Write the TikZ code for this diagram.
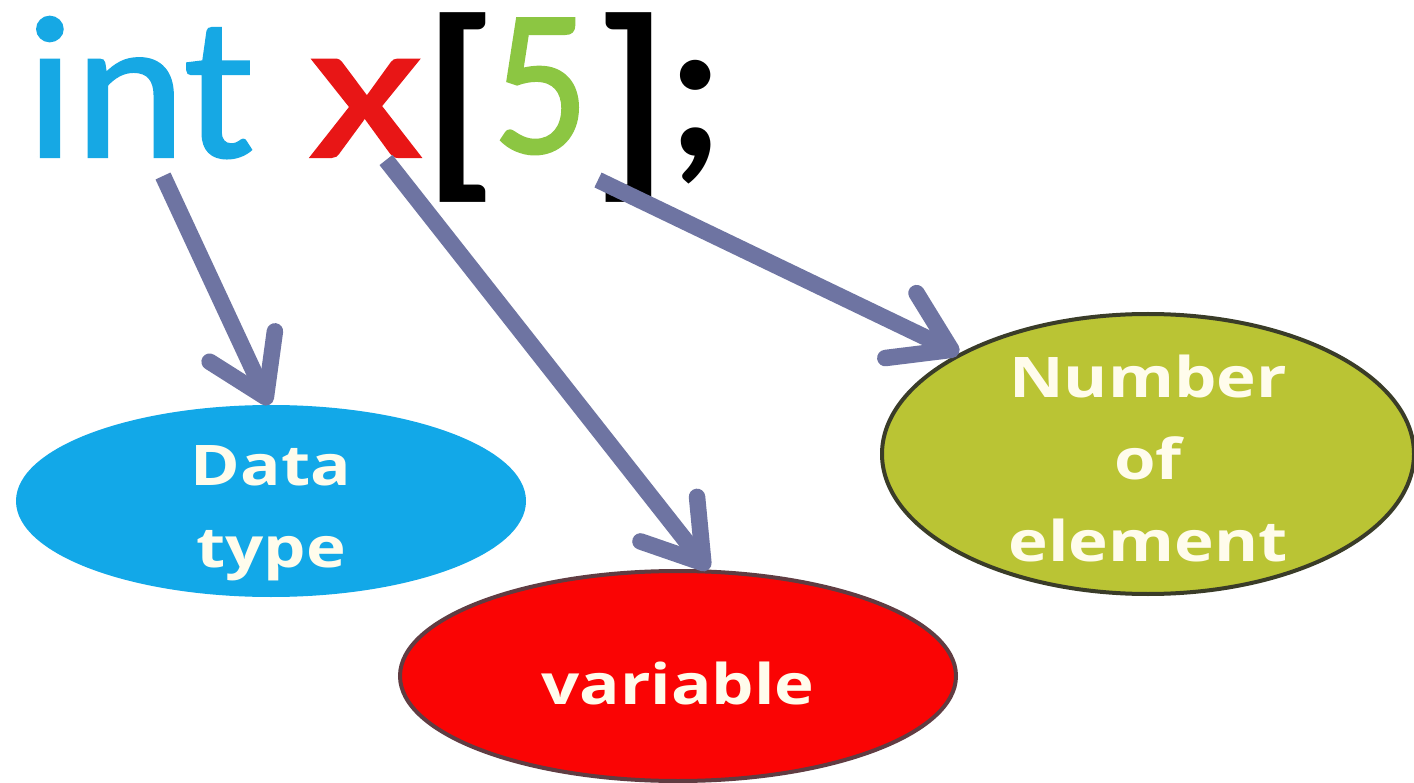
\documentclass[tikz,border=0pt]{standalone}
\usepackage{fontspec}
\setmainfont{Carlito}
\newfontfamily\titlefont[FakeBold=1]{Carlito}
\newfontfamily\lblfont[FakeStretch=1.2]{Open Sans}
\usetikzlibrary{shapes.geometric,arrows.meta,calc}
\definecolor{intblue}{RGB}{22,168,228}
\definecolor{xred}{RGB}{232,22,22}
\definecolor{fivegreen}{RGB}{140,198,66}
\definecolor{dtfill}{RGB}{18,168,232}
\definecolor{varfill}{RGB}{250,4,4}
\definecolor{varedge}{RGB}{96,60,66}
\definecolor{nefill}{RGB}{186,196,52}
\definecolor{needge}{RGB}{58,60,40}
\definecolor{arrowc}{RGB}{110,116,162}
\definecolor{lbltext}{RGB}{255,252,236}
\begin{document}
\begin{tikzpicture}[x=1pt,y=-1pt,
  title/.style={inner sep=0pt, anchor=base west, font=\titlefont\fontsize{204}{204}\selectfont},
  titleb/.style={inner sep=0pt, anchor=base west, font=\fontsize{204}{204}\selectfont\bfseries},
  oval/.style={ellipse, inner sep=0pt},
  lbl/.style={inner sep=0pt, align=center, text=lbltext, font=\lblfont\bfseries\fontsize{56}{82}\selectfont},
  arr/.style={draw=arrowc, line width=16.5pt, -{Straight Barb[length=56pt,width=72pt,round]}}
]
\useasboundingbox (0,0) rectangle (1414,783);
\fill[white] (0,0) rectangle (1414,783);

% title code
\node[title, text=intblue] (int) at (25.5,157) {\scalebox{1.04}[1]{int}};
\node[title, text=xred] (xv) at (308,157) {\scalebox{1.3}[1]{x}};
\node[titleb] (lb) at (423,171) {\scalebox{1.13}[1.06]{[}};
\node[title, text=fivegreen, text height=138pt, text depth=0pt] (five) at (492,153) {\scalebox{0.94}[1.03]{5}};
\node[titleb] (rb) at (593,171) {\scalebox{1.13}[1.06]{]}};
\node[titleb] (semi) at (667,157) {;};

% ellipses
\node[oval, fill=dtfill, minimum width=510pt, minimum height=192pt] (dt) at (271,501) {};
\node[lbl] (dtt) at ($(dt.center)+(0,12)$) {Data\\type};

\node[oval, fill=varfill, draw=varedge, line width=4pt, minimum width=556pt, minimum height=210pt] (var) at (678,676) {};
\node[lbl] (vart) at ($(var.center)+(0,7)$) {variable};

\node[oval, fill=nefill, draw=needge, line width=4pt, minimum width=532pt, minimum height=280pt] (ne) at (1148,454) {};
\node[lbl] (net) at ($(ne.center)+(0,4)$) {Number\\of\\element};

% arrows
\coordinate (s1) at (163,176);
\coordinate (s2) at (386,160);
\coordinate (s3) at (598,180);
\draw[arr] (s1) -- (dt.91);
\draw[arr] (s2) -- (var.74);
\draw[arr] (s3) -- (ne.152);
\end{tikzpicture}
\end{document}
